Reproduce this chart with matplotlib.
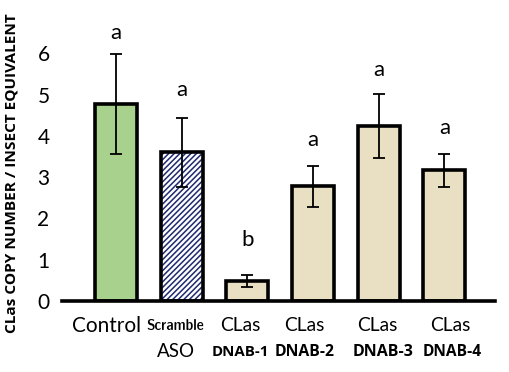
import matplotlib
matplotlib.use("Agg")
import matplotlib.pyplot as plt
from matplotlib.transforms import blended_transform_factory
from matplotlib import font_manager
from matplotlib.font_manager import FontProperties

line1 = ["Control", "Scramble", "CLas", "CLas", "CLas", "CLas"]
line2 = ["", "ASO", "DNAB-1", "DNAB-2", "DNAB-3", "DNAB-4"]
means = [4.77, 3.60, 0.48, 2.78, 4.24, 3.17]
errors = [1.22, 0.84, 0.15, 0.50, 0.77, 0.40]
letters = ["a", "a", "b", "a", "a", "a"]
letter_y = [6.49, 5.11, 1.48, 3.90, 5.59, 4.19]
yticks = [0, 1, 2, 3, 4, 5, 6]

# layout: horizontal offsets of category labels (in bar-spacing units)
dx1 = [-0.145, -0.10, -0.10, -0.137, -0.02, 0.09]
dx2 = [0.0, -0.08, -0.10, -0.13, 0.07, 0.12]
# target rendered widths (px) of label texts, for fitting font sizes
w1 = [69, 58, 41, 41, 41, 41]
w2 = [0, 38, 57, 60, 61, 59]

cond = None
for f in font_manager.fontManager.ttflist:
    nm = f.name.lower()
    if ("narrow" in nm or "condensed" in nm or str(f.stretch) in ("condensed", "semi-condensed", "75", "87")):
        if cond is None or "bold" not in f.fname.lower():
            cond = f.fname

plt.rcParams["hatch.linewidth"] = 1.1

fig = plt.figure(figsize=(5.10, 3.72), dpi=100)
ax = fig.add_axes([0.1216, 0.1909, 0.849, 0.777])
renderer = fig.canvas.get_renderer()


def fit(t, target, horizontal=True):
    bb = t.get_window_extent(renderer)
    cur = bb.width if horizontal else bb.height
    if cur > 0:
        t.set_fontsize(t.get_fontsize() * target / cur)


x = list(range(len(means)))
faces = ["#a9d18e", "white", "#e9e0c4", "#e9e0c4", "#e9e0c4", "#e9e0c4"]
hatches = ["", "//////", "", "", "", ""]
for xi, m, e, fc, h in zip(x, means, errors, faces, hatches):
    if h:
        ax.bar(xi, m, width=0.64, color=fc, edgecolor="#1f2a6e", linewidth=0,
               hatch=h, zorder=2)
        ax.bar(xi, m, width=0.64, fill=False, edgecolor="black", linewidth=2.6,
               zorder=2.5)
    else:
        ax.bar(xi, m, width=0.64, color=fc, edgecolor="black", linewidth=2.6,
               zorder=2)
    ax.errorbar(xi, m, yerr=e, fmt="none", ecolor="black", elinewidth=1.3,
                capsize=4, capthick=1.3, zorder=3)

for xi, lt, ly in zip(x, letters, letter_y):
    ax.text(xi, ly, lt, ha="center", va="center", fontsize=16, family="Lato")

ax.set_xlim(-0.82, 5.77)
ax.set_ylim(0, 7)
ax.set_yticks(yticks)
ax.set_yticklabels([str(t) for t in yticks], fontsize=15, family="Lato")
ax.tick_params(axis="y", length=0, pad=9)
ax.set_xticks([])
for s in ["top", "right", "left"]:
    ax.spines[s].set_visible(False)
ax.spines["bottom"].set_linewidth(2.6)
ax.spines["bottom"].set_zorder(4)

tr = blended_transform_factory(ax.transData, ax.transAxes)
for i, (a, b) in enumerate(zip(line1, line2)):
    if a == "Scramble":
        if cond:
            t1 = ax.text(i + dx1[i], -0.085, a, transform=tr, ha="center",
                         va="center", fontproperties=FontProperties(fname=cond, size=13))
        else:
            t1 = ax.text(i + dx1[i], -0.085, a, transform=tr, ha="center",
                         va="center", fontsize=10, family="Liberation Sans")
    else:
        t1 = ax.text(i + dx1[i], -0.085, a, transform=tr, ha="center",
                     va="center", fontsize=15, family="Lato")
    fit(t1, w1[i])
    if b:
        if a == "Scramble":
            t2 = ax.text(i + dx2[i], -0.175, b, transform=tr, ha="center",
                         va="center", fontsize=15, family="Lato")
        else:
            t2 = ax.text(i + dx2[i], -0.178, b, transform=tr, ha="center",
                         va="center", fontsize=11, family="Open Sans",
                         fontweight="bold")
        fit(t2, w2[i])

yl = fig.text(12 / 510, 1 - 173 / 372, "CLas COPY NUMBER / INSECT EQUIVALENT",
              rotation=90, ha="center", va="center", fontsize=11,
              family="Open Sans", fontweight="bold")
fit(yl, 320, horizontal=False)

fig.savefig("out.png", dpi=100)
